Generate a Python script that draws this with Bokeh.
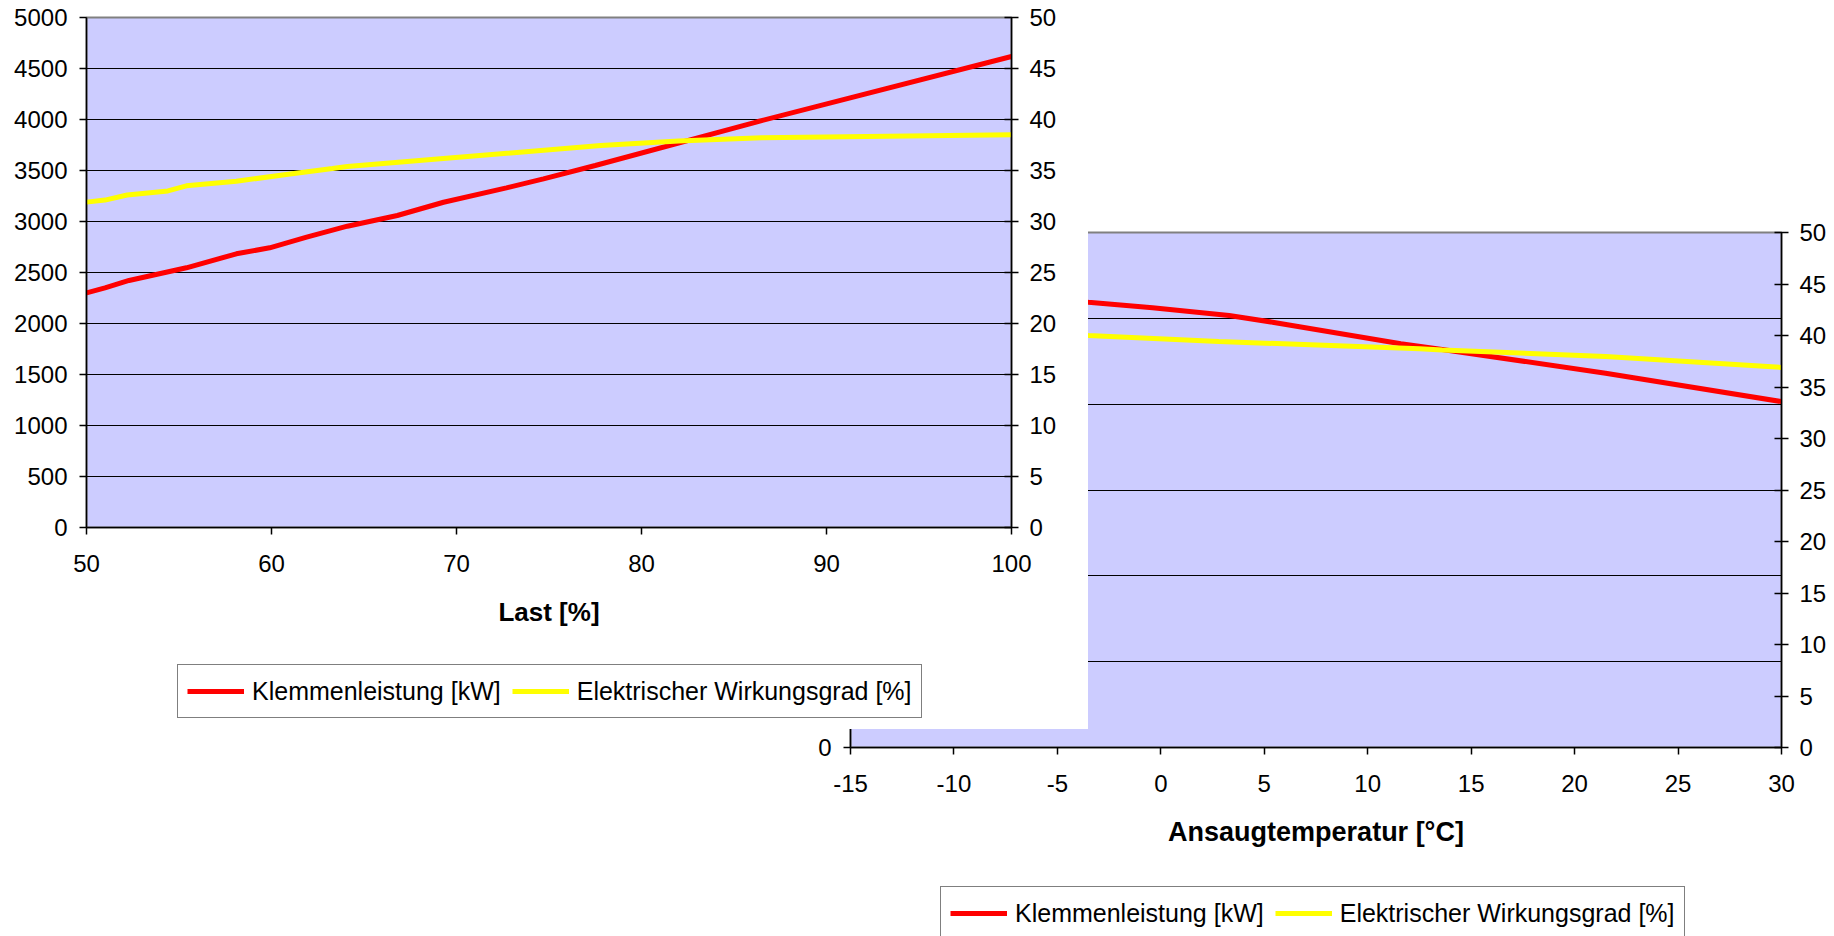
from bokeh.plotting import figure
from bokeh.models import LinearAxis, Range1d, FixedTicker, Legend, LegendItem
from bokeh.layouts import row
from bokeh.embed import file_html
from bokeh.resources import INLINE

# ---------------- data ----------------
# Chart 1: Teillast
last_kw_x = [50, 51, 52.3, 55.4, 58.1, 59.9, 61.9, 64.1, 66.8, 69.3, 72.7, 74.7, 77.5, 86.3, 100]
klemmen_last = [2300, 2350, 2422, 2546, 2683, 2742, 2846, 2954, 3059, 3189, 3330, 3418, 3549, 3980, 4618]
last_eta_x = [50, 51, 52.2, 54.4, 55.4, 58.1, 60.8, 63.3, 64.1, 68.8, 77.8, 82.0, 86.5, 100]
eta_last = [31.9, 32.1, 32.6, 33.0, 33.5, 33.95, 34.6, 35.2, 35.4, 36.1, 37.45, 37.9, 38.2, 38.5]

# Chart 2: Ansaugtemperatur
temp_kw_x = [-15, -10, -5, -3.5, -0.4, 3.3, 5.4, 11.6, 13.6, 21.5, 30]
klemmen_temp = [5400, 5300, 5220, 5188, 5123, 5033, 4955, 4703, 4637, 4361, 4030]
temp_eta_x = [-15, -10, -5, -3.5, 2.8, 12.5, 13.6, 21.5, 30]
eta_temp = [41.0, 40.6, 40.15, 40.0, 39.42, 38.71, 38.6, 37.96, 36.9]

last_ticks = [50, 60, 70, 80, 90, 100]
kw1_ticks = [0, 500, 1000, 1500, 2000, 2500, 3000, 3500, 4000, 4500, 5000]
temp_ticks = [-15, -10, -5, 0, 5, 10, 15, 20, 25, 30]
kw2_ticks = [0, 1000, 2000, 3000, 4000, 5000, 6000]
eta_ticks = [0, 5, 10, 15, 20, 25, 30, 35, 40, 45, 50]

label_red = "Klemmenleistung [kW]"
label_yellow = "Elektrischer Wirkungsgrad [%]"
x1_title = "Last [%]"
x2_title = "Ansaugtemperatur [°C]"

FONT = "Liberation Sans"
RED = "#FF0000"
YELLOW = "#FFFF00"
BG = "#CCCCFF"

# shared top/bottom borders (a row aligns them anyway)
BORDER_TOP = 32
BORDER_BOTTOM = 202


def style_axis(ax, tick_in=0, tick_out=7, standoff=12, title_size="26px"):
    ax.axis_line_color = "black"
    ax.axis_line_width = 1.5
    ax.major_tick_line_color = "black"
    ax.major_tick_line_width = 1.5
    ax.major_tick_in = tick_in
    ax.major_tick_out = tick_out
    ax.minor_tick_line_color = None
    ax.major_label_text_font = FONT
    ax.major_label_text_font_size = "24px"
    ax.major_label_text_color = "black"
    ax.major_label_standoff = standoff
    ax.axis_label_text_font = FONT
    ax.axis_label_text_font_size = title_size
    ax.axis_label_text_font_style = "bold"
    ax.axis_label_text_color = "black"


def make_chart(width, frame_h, left, right, xr, yr, xticks, yticks, xtitle, title_size,
               xs_kw, ys_kw, xs_eta, ys_eta):
    p = figure(width=width, height=BORDER_TOP + frame_h + BORDER_BOTTOM,
               x_range=Range1d(*xr), y_range=Range1d(*yr),
               output_backend="svg", toolbar_location=None,
               min_border_left=left, min_border_right=right,
               min_border_top=BORDER_TOP, min_border_bottom=BORDER_BOTTOM,
               background_fill_color=BG, border_fill_color="white",
               x_axis_label=xtitle)
    p.outline_line_color = "#808080"
    p.outline_line_width = 2
    p.extra_y_ranges = {"eta": Range1d(0, 50)}

    p.xaxis.ticker = FixedTicker(ticks=xticks)
    p.xaxis.major_label_overrides = {t: str(t) for t in xticks if t < 0}
    p.yaxis.ticker = FixedTicker(ticks=yticks)
    style_axis(p.xaxis[0], tick_in=0, tick_out=7, standoff=20, title_size=title_size)
    p.xaxis[0].axis_label_standoff = 22
    style_axis(p.yaxis[0], tick_in=0, tick_out=7, standoff=12)

    ra = LinearAxis(y_range_name="eta", ticker=FixedTicker(ticks=eta_ticks))
    style_axis(ra, tick_in=7, tick_out=7, standoff=11)
    p.add_layout(ra, "right")

    p.xgrid.visible = False
    p.ygrid.ticker = FixedTicker(ticks=yticks)
    p.ygrid.grid_line_color = "black"
    p.ygrid.grid_line_width = 1

    p.line(xs_kw, ys_kw, line_color=RED, line_width=5)
    p.line(xs_eta, ys_eta, line_color=YELLOW, line_width=5, y_range_name="eta")
    return p


LEG_W, LEG_FRAME_H = 780, 60


def make_legend_fig(xs_kw, ys_kw, xs_eta, ys_eta):
    # transparent canvas that only carries the legend box (drawn inside its frame)
    f = figure(width=LEG_W, height=BORDER_TOP + LEG_FRAME_H + BORDER_BOTTOM,
               x_axis_type=None, y_axis_type=None,
               output_backend="svg", toolbar_location=None,
               min_border_left=0, min_border_right=0,
               min_border_top=BORDER_TOP, min_border_bottom=BORDER_BOTTOM,
               background_fill_alpha=0, border_fill_alpha=0)
    f.outline_line_color = None
    f.xgrid.visible = False
    f.ygrid.visible = False
    r1 = f.line(xs_kw, ys_kw, line_color=RED, line_width=5, visible=False)
    r2 = f.line(xs_eta, ys_eta, line_color=YELLOW, line_width=5, visible=False)
    leg = Legend(items=[LegendItem(label=label_red, renderers=[r1]),
                        LegendItem(label=label_yellow, renderers=[r2])],
                 location=(0, 0), orientation="horizontal",
                 border_line_color="black", border_line_width=1,
                 background_fill_color="white", background_fill_alpha=1.0,
                 inactive_fill_alpha=0.0,
                 label_text_font=FONT, label_text_font_size="25px",
                 label_text_color="black",
                 glyph_width=57, glyph_height=34, label_height=34,
                 label_standoff=8, spacing=11, padding=9, margin=0)
    f.add_layout(leg, "center")
    return f


# Chart 2 (page coords): frame x 850-1781, y 232-747
L2, W2 = 770, 1060
T2 = 232 - BORDER_TOP
p2 = make_chart(W2, 515, 850 - L2, L2 + W2 - 1781,
                (-15, 30), (0, 6000), temp_ticks, kw2_ticks, x2_title, "27px",
                temp_kw_x, klemmen_temp, temp_eta_x, eta_temp)

# Chart 1 (page coords): frame x 86-1011, y 17-527, white area ends at x 1088, y 729
W1 = 1088
T1 = 17 - BORDER_TOP
p1 = make_chart(W1, 510, 86, W1 - 1011,
                (50, 100), (0, 5000), last_ticks, kw1_ticks, x1_title, "26px",
                last_kw_x, klemmen_last, last_eta_x, eta_last)

# Legend boxes (page coords): chart 1 box left 177, bottom 718; chart 2 box left 940, bottom 940
leg1 = make_legend_fig(last_kw_x, klemmen_last, last_eta_x, eta_last)
leg2 = make_legend_fig(temp_kw_x, klemmen_temp, temp_eta_x, eta_temp)
LG1_L, LG1_T = 177, 718 - LEG_FRAME_H - BORDER_TOP
LG2_L, LG2_T = 940, 940 - LEG_FRAME_H - BORDER_TOP

# row children placed with margins; later children are painted on top
p2.margin = (T2, 0, -100, L2)
p1.margin = (T1, 0, 0, -(L2 + W2))
leg1.margin = (LG1_T, 0, -200, LG1_L - W1)
leg2.margin = (LG2_T, 0, -300, LG2_L - (LG1_L + LEG_W))

layout = row(p2, p1, leg1, leg2)

open("out.html", "w").write(file_html(layout, INLINE))
